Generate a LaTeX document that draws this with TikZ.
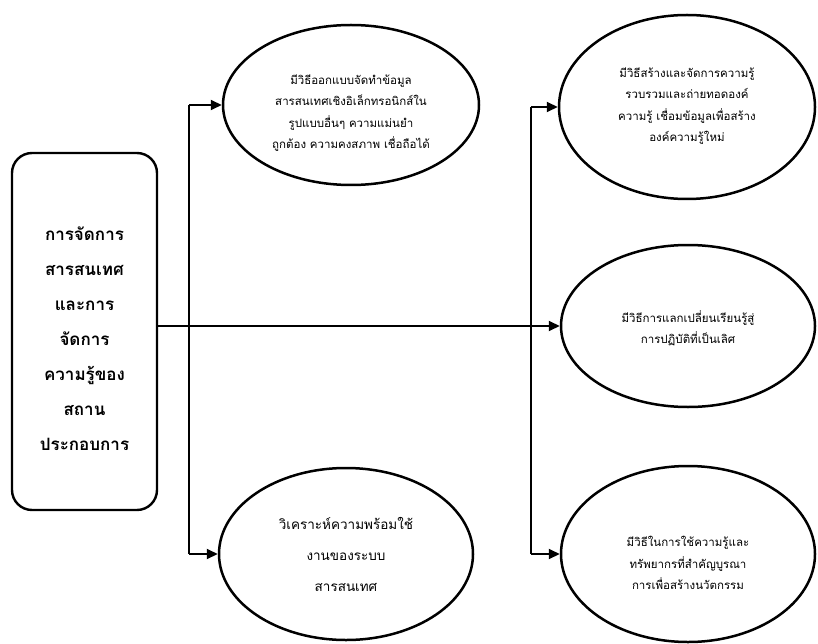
\documentclass[tikz,border=0pt]{standalone}
\usepackage{fontspec}
\newfontfamily\thaifont[Script=Thai]{Loma}
\usetikzlibrary{shapes.geometric,arrows.meta}
\begin{document}
\begin{tikzpicture}[x=1pt,y=-1pt,
  bubble/.style={draw,ellipse,line width=2.5pt,inner sep=0pt},
  bubbletext/.style={align=center,inner sep=0pt,
    font=\thaifont\fontsize{11.5}{21.5}\selectfont},
  mainbox/.style={draw,rounded corners=20pt,line width=2.4pt,
    inner sep=0pt,minimum width=145pt,minimum height=357pt},
  maintext/.style={align=center,inner sep=0pt,
    font=\thaifont\bfseries\fontsize{17}{35}\selectfont},
  link/.style={line width=2pt},
  arr/.style={line width=2pt,-{Triangle[length=11pt,width=10pt]}}]
\useasboundingbox (0,0) rectangle (818,644);

% left root box and its title
\node[mainbox] (root) at (84.5,331.5) {};
\node[maintext] (roottext) at ([yshift=-7pt]root.center)
  {การจัดการ\\สารสนเทศ\\และการ\\จัดการ\\ความรู้ของ\\สถาน\\ประกอบการ};

% outcome ellipses
\node[bubble,minimum width=256pt,minimum height=160pt] (e1) at (351,105) {};
\node[bubble,minimum width=256pt,minimum height=184pt] (e2) at (687,107) {};
\node[bubble,minimum width=254pt,minimum height=162pt] (e3) at (688,326) {};
\node[bubble,minimum width=254pt,minimum height=176pt] (e4) at (688,554) {};
\node[bubble,minimum width=254pt,minimum height=172pt] (e5) at (346,554) {};

% ellipse texts
\node[bubbletext] (t1) at ([yshift=-8pt]e1.center)
  {มีวิธีออกแบบจัดทำข้อมูล\\สารสนเทศเชิงอิเล็กทรอนิกส์ใน\\รูปแบบอื่นๆ ความแม่นยำ\\ถูกต้อง ความคงสภาพ เชื่อถือได้};
\node[bubbletext] (t2) at ([yshift=1pt]e2.center)
  {มีวิธีสร้างและจัดการความรู้\\รวบรวมและถ่ายทอดองค์\\ความรู้ เชื่อมข้อมูลเพื่อสร้าง\\องค์ความรู้ใหม่};
\node[bubbletext] (t3) at ([yshift=-2pt]e3.center)
  {มีวิธีการแลกเปลี่ยนเรียนรู้สู่\\การปฏิบัติที่เป็นเลิศ};
\node[bubbletext] (t4) at ([yshift=-9pt]e4.center)
  {มีวิธีในการใช้ความรู้และ\\ทรัพยากรที่สำคัญบูรณา\\การเพื่อสร้างนวัตกรรม};
\node[bubbletext,font=\thaifont\fontsize{13.5}{31}\selectfont] (t5)
  at (e5.center) {วิเคราะห์ความพร้อมใช้\\งานของระบบ\\สารสนเทศ};

% trunk coordinates
\coordinate (l1) at (189,105);
\coordinate (l5) at (189,554);
\coordinate (r2) at (531,107);
\coordinate (r4) at (531,554);

% connectors
\draw[arr] (root.east |- e3.west) -- (e3.west);
\draw[link] (l1) -- (l5);
\draw[link] (r2) -- (r4);
\draw[arr] (l1) -- (e1.west);
\draw[arr] (l5) -- (e5.west);
\draw[arr] (r2) -- (e2.west);
\draw[arr] (r4) -- (e4.west);
\end{tikzpicture}
\end{document}
